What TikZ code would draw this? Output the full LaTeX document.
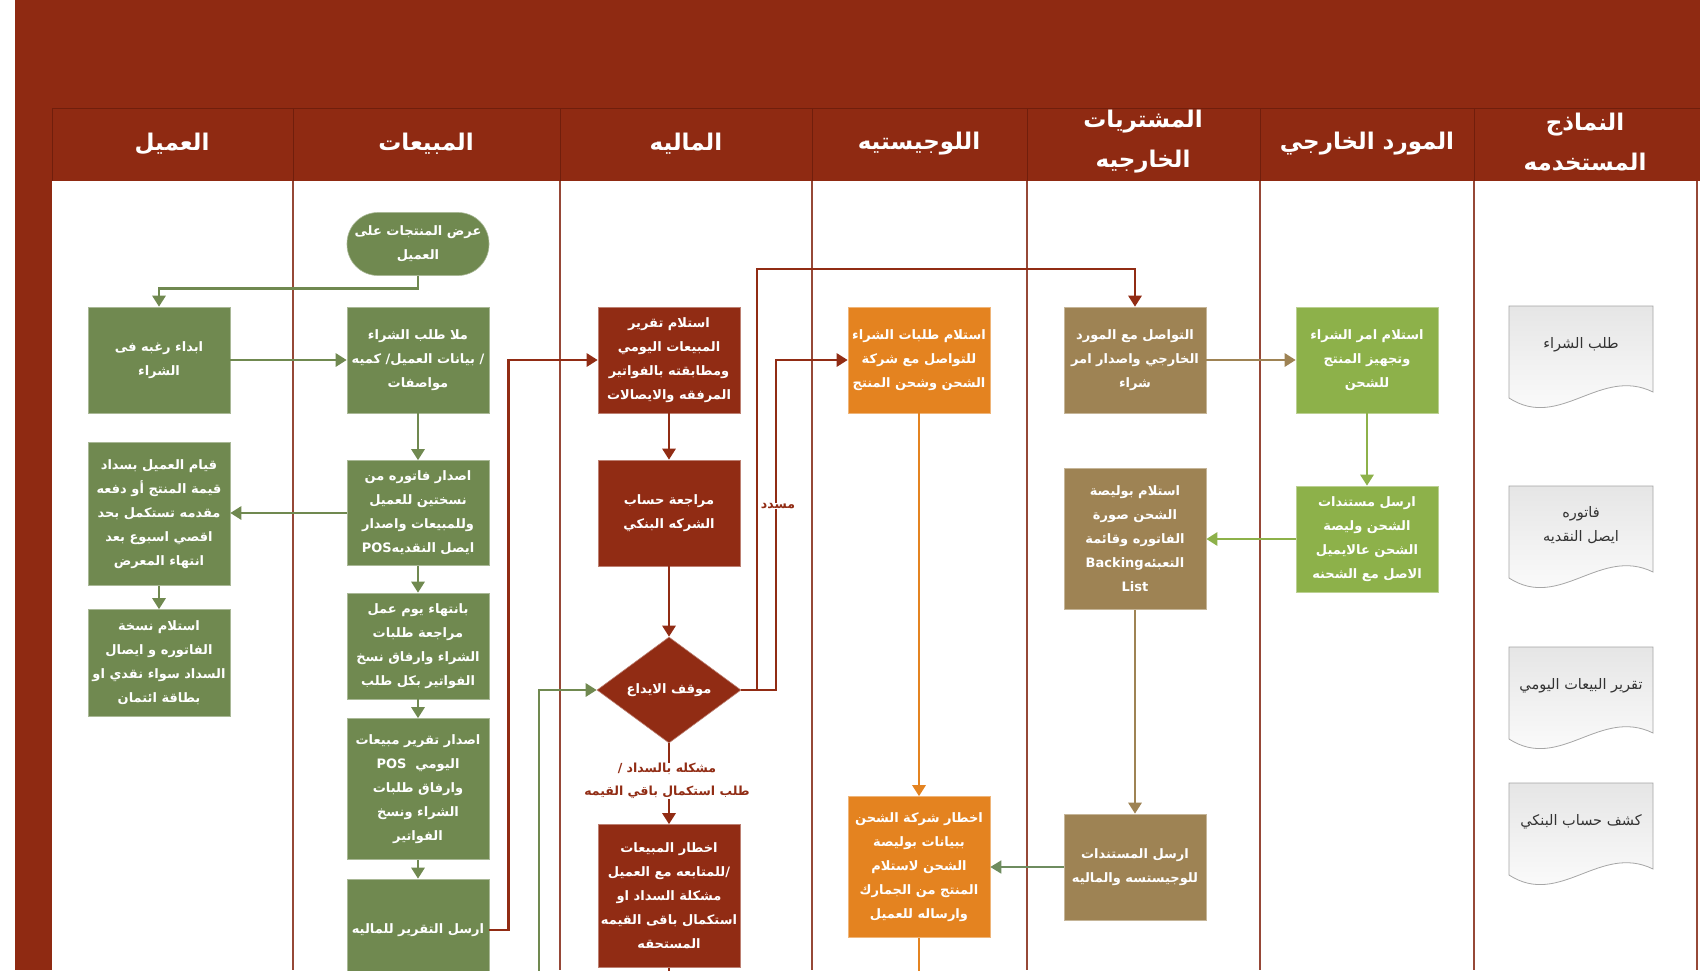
\documentclass[tikz,border=0pt]{standalone}
\usepackage{fontspec}
\usepackage{xcolor}
\usepackage{tikz}
\usetikzlibrary{shapes.geometric,arrows.meta}
\newfontfamily\arabicfont[Script=Arabic]{DejaVu Sans}
\TeXXeTstate=1
\newcommand{\rl}[1]{\beginR #1\endR}

\definecolor{bandred}{RGB}{143,42,18}
\definecolor{bandline}{RGB}{112,30,12}
\definecolor{laneline}{RGB}{150,72,55}
\definecolor{custgreen}{RGB}{112,137,80}
\definecolor{finred}{RGB}{145,44,20}
\definecolor{logorange}{RGB}{228,131,32}
\definecolor{purbrown}{RGB}{158,131,84}
\definecolor{supgreen}{RGB}{141,177,74}
\definecolor{linkgray}{RGB}{110,140,95}

% form document with wavy bottom
\newcommand{\formdoc}[3]{%
  \path[docshape] (1509,#2) -- (1653,#2) -- (1653,#2+86)
    .. controls (1600,#2+60) and (1560,#2+125) .. (1509,#2+92) -- cycle;
  \node[doctext] (#1) at (1581,#2+39) {#3};
}

\begin{document}
\begin{tikzpicture}[x=1pt, y=-1pt,
    box/.style={fill=#1, draw=#1!60!white, line width=0.6pt, text=white,
      minimum width=142, align=center, inner sep=1pt,
      font=\arabicfont\bfseries\fontsize{13}{24}\selectfont},
    flow/.style={draw=#1, line width=2.8pt, -{Triangle[length=11pt,width=13pt]}},
    lanehead/.style={text=white, align=center,
      font=\arabicfont\bfseries\fontsize{23}{40}\selectfont},
    note/.style={text=finred, fill=white, align=center, inner sep=0.5pt,
      font=\arabicfont\bfseries\fontsize{12.5}{23}\selectfont},
    docshape/.style={draw=gray!70, line width=0.8pt, top color=gray!20, bottom color=white},
    doctext/.style={text=black!80, align=center,
      font=\arabicfont\fontsize{14.5}{24}\selectfont}]
  \useasboundingbox (0,0) rectangle (1700,970);
  \clip (0,0) rectangle (1700,970);

  % frame and lanes
  \fill[white] (0,0) rectangle (1700,970);
  \fill[bandred] (15,0) rectangle (1700,181);
  \fill[bandred] (15,0) rectangle (52,970);
  \draw[bandline, line width=1pt] (52,108) -- (1700,108);
  \foreach \lx in {52,293,560,812,1027,1260,1474}
    \draw[bandline, line width=1pt] (\lx,108) -- (\lx,181);
  \foreach \lx in {293,560,812,1027,1260,1474,1697}
    \draw[laneline, line width=1.2pt] (\lx,181) -- (\lx,970);

  \node[lanehead] (hcust) at (172,144) {\rl{العميل}};
  \node[lanehead] (hsales) at (426,144) {\rl{المبيعات}};
  \node[lanehead] (hfin) at (686,144) {\rl{الماليه}};
  \node[lanehead] (hlog) at (919,144) {\rl{اللوجيستيه}};
  \node[lanehead] (hpur) at (1143,142) {\rl{المشتريات}\\\rl{الخارجيه}};
  \node[lanehead] (hsup) at (1367,144) {\rl{المورد الخارجي}};
  \node[lanehead] (hform) at (1585,142) {\rl{النماذج}\\\rl{المستخدمه}};

  % customer
  \node[box=custgreen, minimum height=106] (a1) at (159,360) {\rl{ابداء رغبه فى}\\\rl{الشراء}};
  \node[box=custgreen, minimum height=143] (a2) at (159,514) {\rl{قيام العميل بسداد}\\\rl{قيمة المنتج أو دفعه}\\\rl{مقدمه تستكمل بحد}\\\rl{اقصي اسبوع بعد}\\\rl{انتهاء المعرض}};
  \node[box=custgreen, minimum height=107] (a3) at (159,663) {\rl{استلام نسخة}\\\rl{الفاتوره و ايصال}\\\rl{السداد سواء نقدي او}\\\rl{بطاقة ائتمان}};

  % sales
  \node[box=custgreen, minimum height=63, rounded corners=31pt] (s0) at (418,244) {\rl{عرض المنتجات على}\\\rl{العميل}};
  \node[box=custgreen, minimum height=106] (s1) at (418,360) {\rl{ملا طلب الشراء}\\\rl{/ بيانات العميل/ كميه}\\\rl{مواصفات}};
  \node[box=custgreen, minimum height=105] (s2) at (418,513) {\rl{اصدار فاتوره من}\\\rl{نسختين للعميل}\\\rl{وللمبيعات واصدار}\\\rl{ايصل النقديه\beginL POS\endL}};
  \node[box=custgreen, minimum height=106] (s3) at (418,646) {\rl{بانتهاء يوم عمل}\\\rl{مراجعة طلبات}\\\rl{الشراء وارفاق نسخ}\\\rl{الفواتير بكل طلب}};
  \node[box=custgreen, minimum height=141] (s4) at (418,789) {\rl{اصدار تقرير مبيعات}\\\rl{اليومي\ \ \beginL POS\endL}\\\rl{وارفاق طلبات}\\\rl{الشراء ونسخ}\\\rl{الفواتير}};
  \node[box=custgreen, minimum height=102] (s5) at (418,930) {\rl{ارسل التقرير للماليه}};

  % finance
  \node[box=finred, minimum height=106] (f1) at (669,360) {\rl{استلام تقرير}\\\rl{المبيعات اليومي}\\\rl{ومطابقته بالفواتير}\\\rl{المرفقه والايصالات}};
  \node[box=finred, minimum height=106] (f2) at (669,513) {\rl{مراجعة حساب}\\\rl{الشركه البنكي}};
  \node[box=finred, diamond, minimum width=144, minimum height=106, aspect=1.36] (f3) at (669,690) {\rl{موقف الايداع}};
  \node[box=finred, minimum height=143] (f4) at (669,896) {\rl{اخطار المبيعات}\\\rl{/للمتابعه مع العميل}\\\rl{مشكلة السداد او}\\\rl{استكمال باقى القيمه}\\\rl{المستحقه}};

  % logistics
  \node[box=logorange, minimum height=106] (l1) at (919,360) {\rl{استلام طلبات الشراء}\\\rl{للتواصل مع شركة}\\\rl{الشحن وشحن المنتج}};
  \node[box=logorange, minimum height=141] (l2) at (919,867) {\rl{اخطار شركة الشحن}\\\rl{ببيانات بوليصة}\\\rl{الشحن لاستلام}\\\rl{المنتج من الجمارك}\\\rl{وارساله للعميل}};

  % external purchasing
  \node[box=purbrown, minimum height=106] (p1) at (1135,360) {\rl{التواصل مع المورد}\\\rl{الخارجي واصدار امر}\\\rl{شراء}};
  \node[box=purbrown, minimum height=141] (p2) at (1135,539) {\rl{استلام بوليصة}\\\rl{الشحن صورة}\\\rl{الفاتوره وقائمة}\\\rl{التعبئه\beginL Backing\endL}\\List};
  \node[box=purbrown, minimum height=106] (p3) at (1135,867) {\rl{ارسل المستندات}\\\rl{للوجيستسه والماليه}};

  % external supplier
  \node[box=supgreen, minimum height=106] (v1) at (1367,360) {\rl{استلام امر الشراء}\\\rl{وتجهيز المنتج}\\\rl{للشحن}};
  \node[box=supgreen, minimum height=106] (v2) at (1367,539) {\rl{ارسل مستندات}\\\rl{الشحن وليصة}\\\rl{الشحن عالايميل}\\\rl{الاصل مع الشحنه}};

  % forms used
  \formdoc{d1}{306}{\rl{طلب الشراء}}
  \formdoc{d2}{486}{\rl{فاتوره}\\\rl{ايصل النقديه}}
  \formdoc{d3}{647}{\rl{تقرير البيعات اليومي}}
  \formdoc{d4}{783}{\rl{كشف حساب البنكي}}

  % connectors
  \draw[flow=custgreen] (s0.south) -- ++(0,13) -| (a1.north);
  \draw[flow=custgreen] (a1.east) -- (s1.west);
  \draw[flow=custgreen] (s1.south) -- (s2.north);
  \draw[flow=custgreen] (s2.west) -- (s2.west -| a2.east);
  \draw[flow=custgreen] (a2.south) -- (a3.north);
  \draw[flow=custgreen] (s2.south) -- (s3.north);
  \draw[flow=custgreen] (s3.south) -- (s4.north);
  \draw[flow=custgreen] (s4.south) -- (s5.north);
  \draw[flow=finred] (s5.east) -- ++(19,0) |- (f1.west);
  \draw[flow=finred] (f1.south) -- (f2.north);
  \draw[flow=finred] (f2.south) -- (f3.north);
  \coordinate (purbend) at (757,269);
  \draw[flow=finred] (f3.east) -| (purbend) -| (p1.north);
  \coordinate (logbend) at (776,690);
  \draw[flow=finred] (f3.east) -- (logbend) |- (l1.west);
  \draw[flow=finred] (f3.south) -- (f4.north);
  \draw[finred, line width=2.8pt] (f4.south) -- ++(0,20);
  \coordinate (greenin) at (539,985);
  \draw[flow=custgreen] (greenin) |- (f3.west);
  \draw[flow=logorange] (l1.south) -- (l2.north);
  \draw[logorange, line width=2.8pt] (l2.south) -- ++(0,40);
  \draw[flow=purbrown] (p1.east) -- (v1.west);
  \draw[flow=supgreen] (v1.south) -- (v2.north);
  \draw[flow=supgreen] (v2.west) -- (p2.east);
  \draw[flow=purbrown] (p2.south) -- (p3.north);
  \draw[flow=linkgray, line width=1.6pt] (p3.west) -- (l2.east);

  \node[note] (paylbl) at (667,781) {\rl{مشكله بالسداد /}\\\rl{طلب استكمال باقي القيمه}};
  \node[note] (paidlbl) at (778,506) {\rl{مسدد}};
\end{tikzpicture}
\end{document}
